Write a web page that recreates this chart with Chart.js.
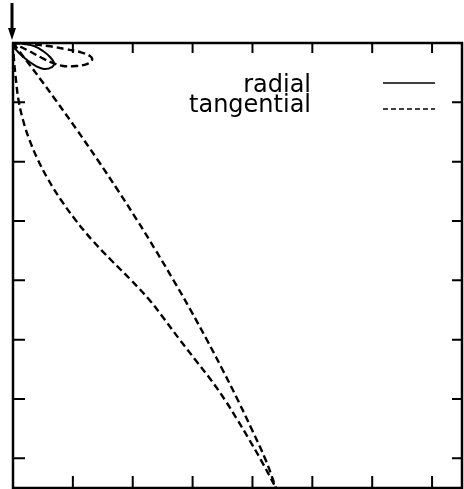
<!DOCTYPE html>
<html>
<head>
<meta charset="utf-8">
<script src="https://cdn.jsdelivr.net/npm/chart.js@4/dist/chart.umd.min.js"></script>
<style>
  html, body { margin: 0; padding: 0; background: #fff; }
  #wrap { width: 464px; height: 489px; }
</style>
</head>
<body>
<div id="wrap"><canvas id="chart"></canvas></div>
<script>
// axis ticks (both axes run 0 .. 7.5, y grows downward)
const xTicks = [1, 2, 3, 4, 5, 6, 7];
const yTicks = [1, 2, 3, 4, 5, 6, 7];

// radial: small closed loop at the origin
const radialX = [0, 0.184, 0.351, 0.501, 0.618, 0.685, 0.651, 0.518, 0.384, 0.234, 0.100, 0.017, 0];
const radialY = [0, 0.017, 0.051, 0.135, 0.236, 0.337, 0.405, 0.438, 0.388, 0.287, 0.169, 0.067, 0];

// tangential, small loop at the origin
const tanLoopX = [0, 0.284, 0.585, 0.869, 1.119, 1.286, 1.320, 1.236, 1.052, 0.835, 0.668, 0.484, 0.301, 0.134, 0];
const tanLoopY = [0, 0.017, 0.051, 0.101, 0.152, 0.219, 0.287, 0.354, 0.388, 0.388, 0.337, 0.253, 0.152, 0.067, 0];

// tangential, long loop: outer (left) branch
const tanOuterX = [0, 0.017, 0.050, 0.092, 0.167, 0.276, 0.418, 0.593, 0.802, 1.044, 1.320, 1.637,
  1.971, 2.280, 2.539, 2.789, 3.048, 3.307, 3.541, 3.750, 3.950, 4.142, 4.393];
const tanOuterY = [0, 0.287, 0.624, 0.961, 1.298, 1.635, 1.972, 2.309, 2.646, 2.983, 3.320, 3.657,
  3.995, 4.332, 4.669, 5.006, 5.343, 5.680, 6.017, 6.354, 6.691, 7.029, 7.500];

// tangential, long loop: inner (right) branch
const tanInnerX = [0, 0.217, 0.468, 0.712, 1.069, 1.415, 1.749, 2.071, 2.380, 2.679, 2.966, 3.240,
  3.503, 3.755, 3.994, 4.221, 4.393];
const tanInnerY = [0, 0.287, 0.624, 0.961, 1.466, 1.972, 2.478, 2.983, 3.489, 3.995, 4.500, 5.006,
  5.512, 6.017, 6.523, 7.029, 7.500];

const toPoints = (xs, ys) => xs.map((x, i) => ({ x: x, y: ys[i] }));

const solid = (label, xs, ys) => ({
  label: label,
  data: toPoints(xs, ys),
  showLine: true,
  borderColor: "#000",
  borderWidth: 2,
  pointRadius: 0,
  tension: 0.4,
});
const dashed = (label, xs, ys) => ({
  ...solid(label, xs, ys),
  borderWidth: 2.4,
  borderDash: [7, 4],
});

// frame, inward ticks, legend and the arrow at the origin
const decorations = {
  id: "decorations",
  afterDraw(chart) {
    const { ctx, chartArea: a, scales } = chart;
    ctx.save();
    ctx.strokeStyle = "#000";
    ctx.fillStyle = "#000";
    ctx.lineWidth = 2.5;
    ctx.setLineDash([]);
    ctx.strokeRect(a.left, a.top, a.right - a.left, a.bottom - a.top);

    ctx.lineWidth = 2;
    ctx.beginPath();
    xTicks.forEach((v) => {
      const px = scales.x.getPixelForValue(v);
      ctx.moveTo(px, a.bottom); ctx.lineTo(px, a.bottom - 12);
      ctx.moveTo(px, a.top); ctx.lineTo(px, a.top + 10);
    });
    yTicks.forEach((v) => {
      const py = scales.y.getPixelForValue(v);
      ctx.moveTo(a.left, py); ctx.lineTo(a.left + 12, py);
      ctx.moveTo(a.right, py); ctx.lineTo(a.right - 10, py);
    });
    ctx.stroke();

    // arrow pointing down at the origin
    const ox = scales.x.getPixelForValue(0) - 1;
    ctx.lineWidth = 3;
    ctx.beginPath();
    ctx.moveTo(ox, 3); ctx.lineTo(ox, 30);
    ctx.stroke();
    ctx.beginPath();
    ctx.moveTo(ox - 4, 28); ctx.lineTo(ox + 4, 28); ctx.lineTo(ox, 40);
    ctx.closePath();
    ctx.fill();

    // legend
    ctx.font = "24px 'DejaVu Sans'";
    ctx.textAlign = "right";
    ctx.textBaseline = "alphabetic";
    ctx.fillText("radial", 311, 92);
    ctx.fillText("tangential", 311, 112);
    ctx.lineWidth = 1.6;
    ctx.beginPath();
    ctx.moveTo(383, 83); ctx.lineTo(435, 83);
    ctx.stroke();
    ctx.setLineDash([5, 3]);
    ctx.beginPath();
    ctx.moveTo(383, 109); ctx.lineTo(435, 109);
    ctx.stroke();
    ctx.restore();
  }
};

new Chart(document.getElementById("chart"), {
  type: "scatter",
  data: {
    datasets: [
      solid("radial", radialX, radialY),
      dashed("tangential", tanLoopX, tanLoopY),
      dashed("tangential", tanOuterX, tanOuterY),
      dashed("tangential", tanInnerX, tanInnerY),
    ],
  },
  options: {
    responsive: true,
    maintainAspectRatio: false,
    animation: false,
    layout: { padding: { left: 13, top: 43, right: 2, bottom: 1 } },
    scales: {
      x: { type: "linear", min: 0, max: 7.5, display: false },
      y: { type: "linear", min: 0, max: 7.5, reverse: true, display: false },
    },
    plugins: {
      legend: { display: false },
      tooltip: { enabled: false },
    },
  },
  plugins: [decorations],
});
</script>
</body>
</html>
